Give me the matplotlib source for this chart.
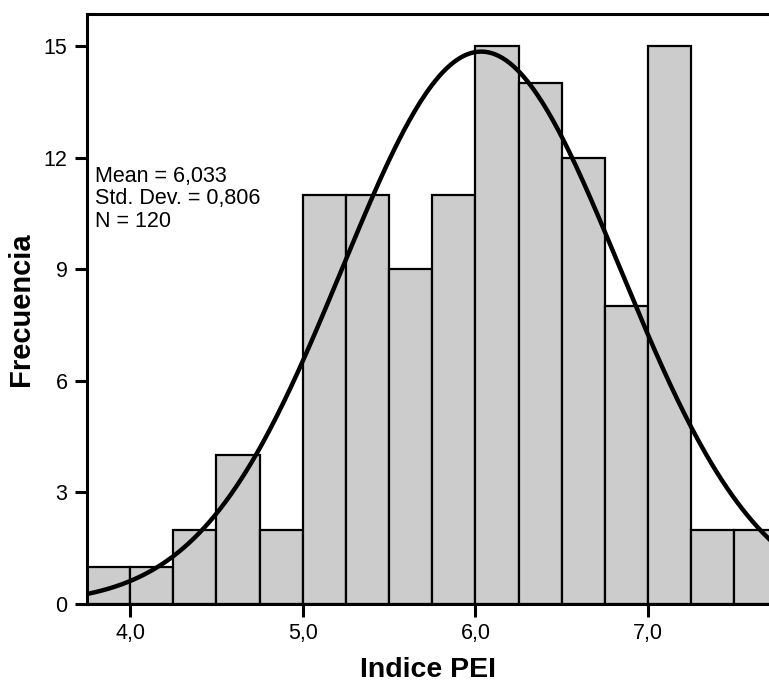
import numpy as np
import matplotlib.pyplot as plt

plt.rcParams['font.family'] = ['Liberation Sans', 'DejaVu Sans']

# histogram data (bin width 0.25)
bin_starts = [3.75, 4.00, 4.25, 4.50, 4.75, 5.00, 5.25, 5.50,
              5.75, 6.00, 6.25, 6.50, 6.75, 7.00, 7.25, 7.50]
counts = [1, 1, 2, 4, 2, 11, 11, 9, 11, 15, 14, 12, 8, 15, 2, 2]
bin_width = 0.25
mean = 6.033
std = 0.806
n = 120

x_ticks = [4.0, 5.0, 6.0, 7.0]
x_tick_labels = ['4,0', '5,0', '6,0', '7,0']
y_ticks = [0, 3, 6, 9, 12, 15]

fig = plt.figure(figsize=(7.69, 6.92), dpi=100)
ax = fig.add_axes([0.1131, 0.1272, 0.8869, 0.8526])

ax.bar(bin_starts, counts, width=bin_width, align='edge',
       color='#cccccc', edgecolor='black', linewidth=1.6, zorder=2)

# normal curve scaled to counts
xs = np.linspace(3.75, 7.8, 400)
ys = n * bin_width * np.exp(-0.5 * ((xs - mean) / std) ** 2) / (std * np.sqrt(2 * np.pi))
ax.plot(xs, ys, color='black', linewidth=3.2, zorder=3)

ax.set_xlim(3.75, 7.70)
ax.set_ylim(0, 15.86)
ax.set_xticks(x_ticks)
ax.set_xticklabels(x_tick_labels)
ax.set_yticks(y_ticks)

for side in ['left', 'bottom', 'top']:
    ax.spines[side].set_linewidth(2.2)
ax.spines['right'].set_visible(False)
ax.tick_params(direction='out', length=9, width=2.2, labelsize=15.5, pad=5)

ax.set_xlabel('Indice PEI', fontsize=20.5, fontweight='bold')
ax.set_ylabel('Frecuencia', fontsize=21, fontweight='bold')
ax.xaxis.set_label_coords(0.5, -0.09)
ax.yaxis.set_label_coords(-0.076, 0.5)

ax.text(3.795, 11.78, 'Mean = 6,033\nStd. Dev. = 0,806\nN = 120',
        fontsize=15.5, va='top', ha='left', linespacing=1.1, zorder=4)

fig.savefig('out.png', dpi=100)
